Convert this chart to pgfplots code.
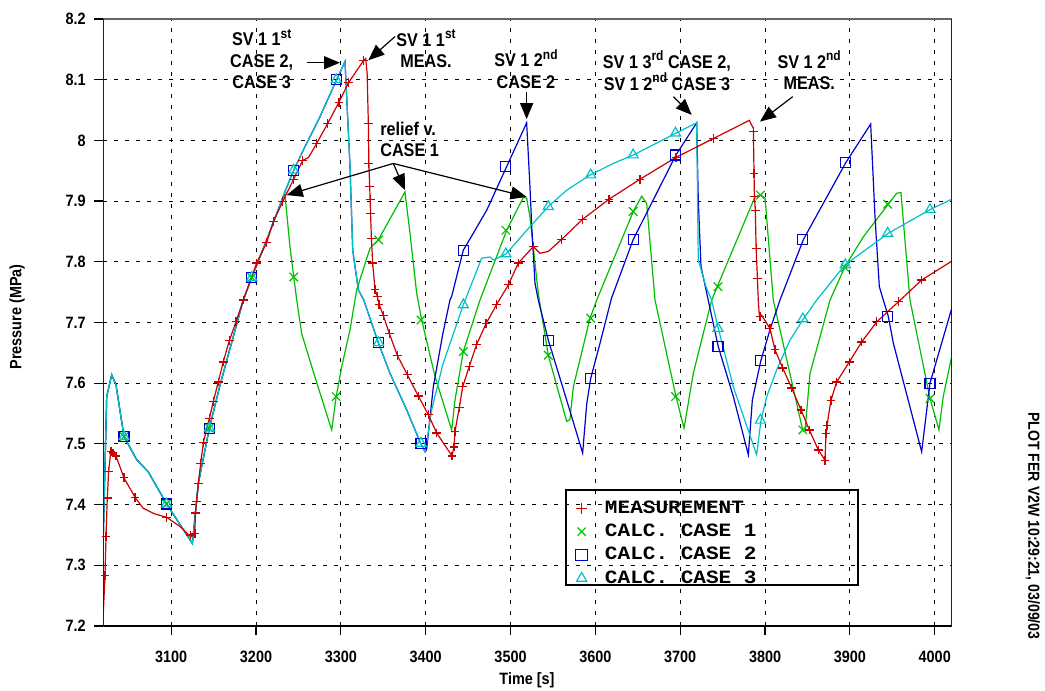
\documentclass[border=0pt]{standalone}
\usepackage{pgfplots}
\pgfplotsset{compat=1.18}
\usepackage{fontspec}
\usetikzlibrary{arrows.meta}
\setmainfont{Liberation Sans}
\newfontfamily\nsans[FakeStretch=0.88]{Liberation Sans}
\newfontfamily\lmono[FakeStretch=1.12]{Liberation Mono}
\definecolor{cred}{RGB}{204,0,0}
\definecolor{cgreen}{RGB}{0,190,0}
\definecolor{cblue}{RGB}{0,0,204}
\definecolor{ccyan}{RGB}{0,192,200}
\newcommand{\lblfont}{\nsans\bfseries\fontsize{8.2}{9}\selectfont}
\newcommand{\annfont}{\nsans\bfseries\fontsize{9.2}{10.7}\selectfont}
\newcommand{\sups}[1]{\raisebox{0.8ex}{\fontsize{6.8}{7}\selectfont #1}}
\tikzset{ann/.style={-{Triangle[length=8pt,width=6.5pt]}, line width=0.6pt, black}}
\begin{document}
\begin{tikzpicture}
\path[use as bounding box] (-51.65pt,-32.5pt) rectangle (470.85pt,313pt);
\begin{axis}[
  at={(0,0)}, anchor=south west,
  scale only axis, width=424.2pt, height=303.5pt,
  xmin=3020, xmax=4020, ymin=7.2, ymax=8.2,
  xtick={3100,3200,3300,3400,3500,3600,3700,3800,3900,4000},
  xticklabels={3100,3200,3300,3400,3500,3600,3700,3800,3900,4000},
  ytick={7.2,7.3,7.4,7.5,7.6,7.7,7.8,7.9,8,8.1,8.2},
  yticklabels={7.2,7.3,7.4,7.5,7.6,7.7,7.8,7.9,8,8.1,8.2},
  xtick pos=bottom, ytick pos=left,
  tick align=outside, major tick length=4.5pt,
  tick style={black, line width=0.6pt},
  grid=major, major grid style={black, line width=0.5pt, dash pattern=on 2pt off 3.5pt},
  axis line style={line width=0.6pt, black!60},
  ticklabel style={font=\lblfont},
  xticklabel style={yshift=-4.7pt},
  yticklabel style={xshift=-0.8pt},
  xlabel={Time [s]}, ylabel={Pressure (MPa)},
  label style={font=\lblfont},
  xlabel style={at={(axis description cs:0.4994,-0.0890)}, anchor=center},
  ylabel style={at={(axis description cs:-0.1017,0.509)}, anchor=center},
  legend cell align=left,
  legend style={at={(rel axis cs:0.5568,0.2086)}, anchor=north west, draw=none, fill=none,
    inner sep=0pt, outer sep=0pt,
    font=\lmono\bfseries\fontsize{9.4}{10}\selectfont,
    nodes={inner sep=0pt, outer sep=0pt, text height=7pt, text depth=2pt}, row sep=2.65pt},
  legend image code/.code={\draw[#1, mark size=2.9pt] plot coordinates {(0pt,0pt)}; \path[draw=none, fill=none] (-3pt,-0.05pt) rectangle (11.65pt,0.05pt);},
]
% ---- lines ----
\addplot[cgreen, line width=0.6pt, forget plot] table {
3020 7.347
3024 7.578
3029.9 7.614
3035 7.597
3044.4 7.512
3059.4 7.474
3073 7.454
3094.7 7.401
3125 7.336
3127 7.364
3132 7.435
3145 7.526
3157.6 7.597
3185 7.737
3195 7.774
3212.6 7.836
3234 7.913
3240 7.825
3244.5 7.775
3248 7.737
3253.8 7.682
3267.5 7.619
3289.2 7.523
3294.5 7.578
3301 7.627
3310.8 7.688
3316.7 7.737
3318.7 7.754
3334.3 7.822
3344.1 7.836
3375.6 7.915
3381.5 7.847
3389.4 7.748
3395.3 7.704
3411 7.611
3430.6 7.523
3434.5 7.572
3444.3 7.652
3464 7.737
3495.5 7.852
3515 7.906
3519 7.905
3522.9 7.874
3532.7 7.748
3544.5 7.646
3566.2 7.537
3570 7.540
3574 7.594
3593.7 7.707
3601.6 7.737
3644.7 7.883
3654.6 7.908
3660.5 7.896
3670.3 7.737
3695 7.578
3704.5 7.526
3715.4 7.616
3737.1 7.737
3743.7 7.759
3788.1 7.907
3794.9 7.910
3800 7.905
3809.7 7.737
3844.3 7.523
3847 7.520
3853 7.616
3876.6 7.737
3894.2 7.792
3915.8 7.841
3945.3 7.895
3955.2 7.913
3960.2 7.914
3970.8 7.737
3994.4 7.575
4005 7.523
4010 7.578
4020 7.644
};
\addplot[cblue, line width=0.6pt, forget plot] table {
3020 7.347
3024 7.578
3029.9 7.614
3035 7.597
3044.4 7.512
3059.4 7.474
3073 7.454
3094.7 7.401
3125 7.336
3127 7.364
3132 7.435
3145 7.526
3157.6 7.597
3185 7.737
3195 7.774
3212.6 7.836
3234 7.915
3244.5 7.951
3255.7 7.984
3275.4 8.039
3295 8.100
3304.9 8.130
3310.8 7.957
3314 7.819
3316.7 7.792
3320.6 7.754
3327 7.737
3344.1 7.667
3358 7.616
3377.6 7.556
3394 7.501
3399.2 7.487
3401 7.490
3409 7.594
3420 7.680
3428.6 7.737
3430.6 7.743
3444.3 7.819
3456.1 7.847
3471.9 7.885
3495.5 7.957
3519 8.029
3522.9 7.924
3525 7.858
3528.8 7.765
3532.7 7.737
3544.5 7.671
3566.2 7.572
3585 7.485
3589.8 7.566
3594.5 7.608
3605.5 7.666
3619 7.740
3644.7 7.837
3695 7.976
3719.4 8.029
3721.3 7.902
3724.5 7.792
3730.4 7.754
3733 7.737
3744.9 7.660
3762.6 7.578
3780.3 7.482
3785 7.572
3795 7.637
3805.8 7.688
3817.6 7.737
3845.3 7.837
3895 7.963
3924.5 8.027
3929.6 7.874
3934.7 7.759
3939.4 7.737
3945.3 7.710
3951.2 7.666
3984.6 7.487
3994.4 7.600
4002.3 7.638
4020 7.723
};
\addplot[ccyan, line width=0.6pt, forget plot] table {
3020 7.347
3024 7.578
3029.9 7.614
3035 7.597
3044.4 7.512
3059.4 7.474
3073 7.454
3094.7 7.401
3125 7.336
3127 7.364
3132 7.435
3145 7.526
3157.6 7.597
3185 7.737
3195 7.774
3212.6 7.836
3234 7.915
3244.5 7.951
3255.7 7.984
3275.4 8.039
3295 8.100
3304.9 8.130
3310.8 7.957
3314 7.819
3316.7 7.792
3320.6 7.754
3327 7.737
3344.1 7.667
3358 7.616
3377.6 7.556
3394 7.501
3399.2 7.487
3401 7.500
3407 7.556
3420 7.630
3444.3 7.729
3466 7.806
3475.8 7.808
3479.7 7.803
3494.7 7.813
3523 7.858
3544.5 7.891
3566.2 7.918
3593.7 7.943
3621.1 7.962
3644.7 7.976
3664.4 7.990
3695 8.012
3719.4 8.029
3721.3 7.803
3730.4 7.759
3737 7.737
3744.9 7.690
3762.6 7.594
3790.1 7.482
3793.2 7.517
3795.2 7.539
3802 7.578
3813.7 7.622
3829.4 7.671
3845.3 7.706
3860.9 7.737
3894.2 7.795
3945.3 7.847
3994.4 7.886
4020 7.903
};
\addplot[cred, line width=0.6pt, forget plot] table {
3020 7.221
3022 7.283
3023.2 7.347
3024.7 7.411
3026.3 7.455
3029 7.490
3031 7.486
3035 7.480
3044.4 7.444
3057.4 7.412
3067 7.394
3080 7.385
3094.7 7.379
3110.4 7.364
3123 7.347
3126 7.350
3128 7.353
3128.5 7.386
3130 7.405
3132 7.435
3134.8 7.468
3137.9 7.502
3145 7.542
3149.7 7.570
3155.5 7.602
3161.4 7.635
3168.5 7.670
3176.4 7.701
3185 7.737
3200.8 7.798
3212.6 7.832
3220.4 7.866
3231.4 7.899
3244 7.935
3255 7.967
3262 7.972
3271.5 7.995
3284.5 8.028
3297.8 8.063
3309 8.095
3326.5 8.131
3329.3 8.135
3331 8.110
3332.4 8.028
3333 7.962
3334 7.924
3334.5 7.902
3335 7.880
3336 7.839
3337.5 7.798
3340.3 7.754
3343 7.743
3345 7.730
3350 7.712
3357.1 7.682
3366.5 7.646
3378.3 7.614
3391.3 7.579
3403.1 7.548
3413 7.518
3431 7.480
3433.4 7.495
3434.5 7.520
3439.6 7.560
3443.6 7.594
3451.4 7.628
3460.1 7.664
3471.1 7.698
3483.7 7.730
3497.4 7.762
3509.2 7.798
3526.8 7.825
3534.7 7.814
3544.5 7.817
3560.3 7.837
3585 7.870
3616 7.903
3652.6 7.936
3695 7.972
3739 8.003
3781.4 8.033
3786.2 8.020
3787 7.946
3787.5 7.907
3788.5 7.885
3789.5 7.822
3791 7.773
3792 7.737
3793 7.716
3794 7.708
3796 7.712
3805.8 7.690
3811.7 7.655
3820.8 7.625
3831.4 7.592
3842.4 7.556
3852.2 7.523
3862.8 7.490
3870.7 7.473
3871.8 7.517
3873 7.530
3877.7 7.572
3884.4 7.602
3899.3 7.635
3913.9 7.668
3931.6 7.701
3957.1 7.734
3984.6 7.770
4020 7.801
};
% ---- markers ----
\addplot[only marks, mark=+, mark size=2.2pt, cred, mark options={line width=0.6pt}] table {
3022 7.283
3023.2 7.347
3024.7 7.411
3026.3 7.455
3029 7.488
3031.5 7.485
3035 7.480
3044.4 7.444
3057.4 7.412
3094.7 7.379
3123 7.350
3128 7.353
3128.5 7.386
3130 7.405
3132 7.435
3134.8 7.468
3137.9 7.502
3145 7.542
3149.7 7.570
3155.5 7.602
3161.4 7.635
3168.5 7.670
3176.4 7.701
3185 7.737
3200.8 7.798
3212.6 7.832
3220.4 7.866
3231.4 7.899
3244 7.935
3255 7.967
3271.5 7.995
3284.5 8.028
3297.8 8.063
3309 8.095
3326.5 8.131
3332.4 8.028
3333 7.962
3334 7.924
3334.5 7.902
3335 7.880
3336 7.839
3337.5 7.798
3340.3 7.754
3343 7.743
3345 7.730
3350 7.712
3357.1 7.682
3366.5 7.646
3378.3 7.614
3391.3 7.579
3403.1 7.548
3413 7.518
3431 7.480
3433.4 7.495
3434.5 7.520
3439.6 7.560
3443.6 7.594
3451.4 7.628
3460.1 7.664
3471.1 7.698
3483.7 7.730
3497.4 7.762
3509.2 7.798
3526.8 7.825
3560.3 7.837
3585 7.870
3616 7.903
3652.6 7.936
3695 7.972
3739 8.003
3786.2 8.015
3787 7.946
3787.5 7.907
3788.5 7.885
3789.5 7.822
3791 7.773
3794 7.710
3805.8 7.690
3811.7 7.655
3820.8 7.625
3831.4 7.592
3842.4 7.556
3852.2 7.523
3862.8 7.490
3870.7 7.473
3871.8 7.517
3873 7.530
3877.7 7.572
3884.4 7.602
3899.3 7.635
3913.9 7.668
3931.6 7.701
3957.1 7.734
3984.6 7.770
};
\addlegendentry{MEASUREMENT}
\addplot[only marks, mark=x, mark size=3pt, cgreen, mark options={line width=0.6pt}] table {
3044.5 7.512
3094.5 7.401
3145 7.526
3195 7.774
3244.5 7.775
3294.5 7.578
3344.5 7.836
3394.5 7.704
3444.5 7.652
3494.5 7.852
3544.5 7.646
3594.5 7.707
3644.5 7.883
3694.5 7.578
3744.5 7.759
3794.5 7.910
3844.5 7.523
3894.5 7.790
3944.5 7.895
3994.5 7.575
};
\addlegendentry{CALC. CASE 1}
\addplot[only marks, mark=square, mark size=2.5pt, cblue, mark options={line width=0.6pt, fill=none}] table {
3044.5 7.512
3094.5 7.401
3145 7.526
3195 7.774
3244.5 7.951
3294.5 8.100
3344.5 7.667
3394.5 7.501
3444.5 7.819
3494.5 7.957
3544.5 7.671
3594.5 7.608
3644.5 7.837
3694.5 7.976
3744.5 7.660
3794.5 7.637
3844.5 7.837
3894.5 7.963
3944.5 7.710
3994.5 7.600
};
\addlegendentry{CALC. CASE 2}
\addplot[only marks, mark=triangle, mark size=2.9pt, ccyan, mark options={line width=0.6pt, fill=none}] table {
3044.5 7.512
3094.5 7.401
3145 7.526
3195 7.774
3244.5 7.951
3294.5 8.100
3344.5 7.667
3394.5 7.501
3444.5 7.729
3494.5 7.813
3544.5 7.891
3594.5 7.943
3644.5 7.976
3694.5 8.012
3744.5 7.690
3794.5 7.539
3844.5 7.706
3894.5 7.795
3944.5 7.847
3994.5 7.886
};
\addlegendentry{CALC. CASE 3}
% axis frame emphasis and legend box
\draw[black, line width=1pt] (rel axis cs:0,1) -- (rel axis cs:0,0) -- (rel axis cs:1,0);
\draw[black, line width=0.6pt] (rel axis cs:1,0) -- (rel axis cs:1,1);
\draw[black, line width=0.6pt, fill=none] (rel axis cs:0.5454,0.0675) rectangle (rel axis cs:0.8896,0.2240);
% annotations
\node[font=\annfont, align=center] at (axis cs:3206.7,8.134) {SV 1 1\sups{st}\\CASE 2,\\CASE 3};
\draw[ann] (axis cs:3259.6,8.128) -- (axis cs:3299,8.128);
\node[font=\annfont, align=center] at (axis cs:3400.4,8.151) {SV 1 1\sups{st}\\MEAS.};
\draw[ann] (axis cs:3363.8,8.171) -- (axis cs:3332.4,8.132);
\node[font=\annfont, align=center] at (axis cs:3518.2,8.118) {SV 1 2\sups{nd}\\CASE 2};
\draw[ann] (axis cs:3519,8.079) -- (axis cs:3519,8.035);
\node[font=\annfont, align=left, anchor=west] at (axis cs:3338.2,8.002) {relief v.\\CASE 1};
\draw[ann] (axis cs:3361.8,7.962) -- (axis cs:3236.2,7.910);
\draw[ann] (axis cs:3361.8,7.962) -- (axis cs:3375.6,7.918);
\draw[ann] (axis cs:3361.8,7.962) -- (axis cs:3519,7.907);
\node[font=\annfont, align=center] at (axis cs:3684.4,8.115) {SV 1 3\sups{rd} CASE 2,\\SV 1 2\sups{nd} CASE 3};
\draw[ann] (axis cs:3691.9,8.072) -- (axis cs:3713.6,8.042);
\node[font=\annfont, align=center] at (axis cs:3852,8.116) {SV 1 2\sups{nd}\\MEAS.};
\draw[ann] (axis cs:3832.6,8.072) -- (axis cs:3794,8.031);
\end{axis}
\node[rotate=-90, font=\nsans\bfseries\fontsize{8}{9}\selectfont] at (464.85pt,50pt) {PLOT FER V2W 10:29:21, 03/09/03};
\end{tikzpicture}
\end{document}
